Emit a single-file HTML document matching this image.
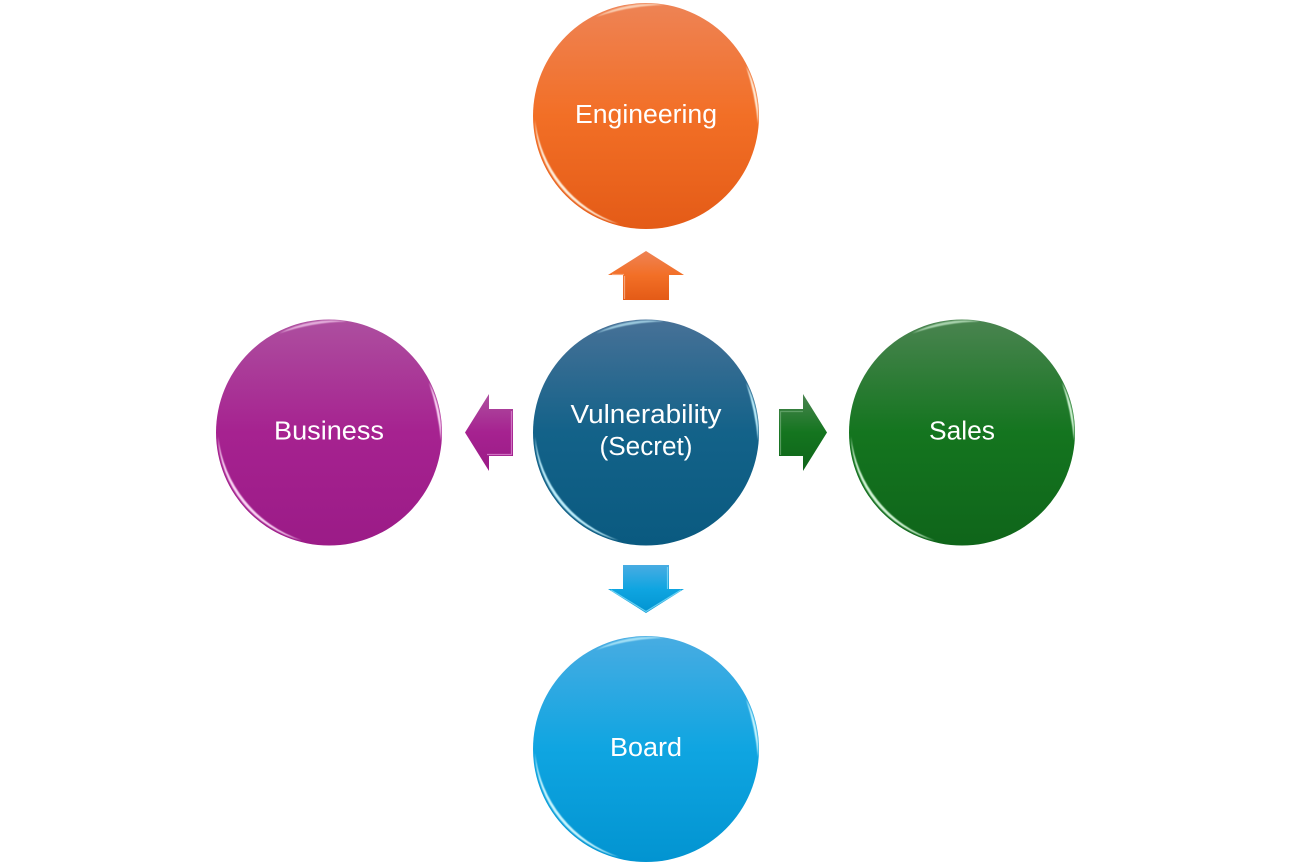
<!DOCTYPE html>
<html>
<head>
<meta charset="utf-8">
<style>
html,body{margin:0;padding:0;background:#fff;width:1292px;height:865px;overflow:hidden}
svg{display:block}
text{font-family:"Liberation Sans",sans-serif;font-size:25.5px;fill:#fff;text-anchor:middle}
</style>
</head>
<body>
<svg width="1292" height="865" viewBox="0 0 1292 865" xmlns="http://www.w3.org/2000/svg">
<defs>
<linearGradient id="o" x1="0" y1="0" x2="0" y2="1"><stop offset="0" stop-color="#ee8355"/><stop offset=".5" stop-color="#f26f26"/><stop offset="1" stop-color="#e45b17"/></linearGradient>
<linearGradient id="b" x1="0" y1="0" x2="0" y2="1"><stop offset="0" stop-color="#477197"/><stop offset=".5" stop-color="#136289"/><stop offset="1" stop-color="#0a5a80"/></linearGradient>
<linearGradient id="p" x1="0" y1="0" x2="0" y2="1"><stop offset="0" stop-color="#ad4f9f"/><stop offset=".5" stop-color="#a62290"/><stop offset="1" stop-color="#9b1b87"/></linearGradient>
<linearGradient id="g" x1="0" y1="0" x2="0" y2="1"><stop offset="0" stop-color="#4a8450"/><stop offset=".5" stop-color="#14751f"/><stop offset="1" stop-color="#0f651a"/></linearGradient>
<linearGradient id="c" x1="0" y1="0" x2="0" y2="1"><stop offset="0" stop-color="#48ace2"/><stop offset=".5" stop-color="#0fa5e1"/><stop offset="1" stop-color="#0294d1"/></linearGradient>
<filter id="s" x="-10%" y="-10%" width="120%" height="120%"><feGaussianBlur stdDeviation=".45"/></filter>
<g id="hl" stroke="none" filter="url(#s)">
<path d="M-111 4A111.5 111.5 0 0 0 -27 108A125 125 0 0 1 -111 4Z"/>
<path d="M-50 -99A112 112 0 0 1 18 -111A227 227 0 0 0 -50 -99Z" opacity=".7"/>
<path d="M100 -50A112 112 0 0 1 112 8A270 270 0 0 0 100 -50Z"/>
</g>
</defs>

<!-- Connectors -->
<path d="M646 251L684 275H669V300H623V275H608Z" fill="url(#o)"/>
<path d="M624.5 276V299M612 274.5H624" stroke="#f9b48f" stroke-width="1.2" fill="none" opacity=".8"/>
<path d="M779 409H803V394L827 432.5L803 471V456H779Z" fill="url(#g)"/>
<path d="M780.5 411V455M780.5 411.5H803" stroke="#6aa871" stroke-width="1.2" fill="none" opacity=".8"/>
<path d="M513 409H489V394L465 432.5L489 471V456H513Z" fill="url(#p)"/>
<path d="M487 454.5H511.5V411" stroke="#dc86cf" stroke-width="1.2" fill="none" opacity=".8"/>
<path d="M623 565H669V589H684L646 613L608 589H623Z" fill="url(#c)"/>
<path d="M667.5 567V589M611 590L646 611.5L681 590" stroke="#7fdcf8" stroke-width="1.2" fill="none" opacity=".8"/>

<!-- Engineering -->
<circle cx="646" cy="116" r="113" fill="url(#o)"/>
<use href="#hl" x="646" y="116" fill="#ffeeda"/>
<text x="646" y="123" textLength="142" lengthAdjust="spacingAndGlyphs">Engineering</text>

<!-- Center -->
<circle cx="646" cy="432.5" r="113" fill="url(#b)"/>
<use href="#hl" x="646" y="432.5" fill="#bdeefc"/>
<text x="646" y="423" textLength="151" lengthAdjust="spacingAndGlyphs">Vulnerability</text>
<text x="646" y="455" textLength="93" lengthAdjust="spacingAndGlyphs">(Secret)</text>

<!-- Business -->
<circle cx="329" cy="432.5" r="113" fill="url(#p)"/>
<use href="#hl" x="329" y="432.5" fill="#fbd6f5"/>
<text x="329" y="439.5" textLength="110" lengthAdjust="spacingAndGlyphs">Business</text>

<!-- Sales -->
<circle cx="962" cy="432.5" r="113" fill="url(#g)"/>
<use href="#hl" x="962" y="432.5" fill="#d2f5d5"/>
<text x="962" y="439.5" textLength="66" lengthAdjust="spacingAndGlyphs">Sales</text>

<!-- Board -->
<circle cx="646" cy="749" r="113" fill="url(#c)"/>
<use href="#hl" x="646" y="749" fill="#c8f5fe"/>
<text x="646" y="756" textLength="72" lengthAdjust="spacingAndGlyphs">Board</text>
</svg>
</body>
</html>
